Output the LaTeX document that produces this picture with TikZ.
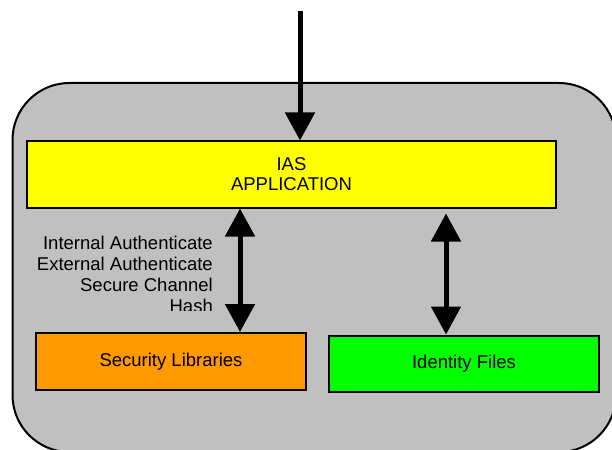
\documentclass[tikz,border=0pt]{standalone}
\usepackage{fontspec}
\setmainfont{Liberation Sans}
\usetikzlibrary{arrows.meta}
\definecolor{panelgray}{HTML}{C0C0C0}
\definecolor{appyellow}{HTML}{FFFF00}
\definecolor{liborange}{HTML}{FF9900}
\definecolor{filegreen}{HTML}{00FF00}
\begin{document}
\begin{tikzpicture}[x=1pt,y=-1pt,
  box/.style={draw=black, line width=2pt, rectangle, inner sep=0pt, align=center,
    font=\fontsize{18.5}{20}\selectfont},
  conn/.style={line width=5pt, -{Triangle[width=29pt,length=28pt]}},
  dconn/.style={line width=5pt, {Triangle[width=29pt,length=28pt]}-{Triangle[width=29pt,length=28pt]}},
  lbl/.style={align=right, inner sep=0pt, font=\fontsize{18.5}{21}\selectfont}]
\useasboundingbox (0,0) rectangle (612,449);
\begin{scope}
\clip (0,0) rectangle (612,449);
\draw[line width=2pt, fill=panelgray, rounded corners=57pt] (12.5,83) rectangle (616,452);
\end{scope}
\node[box, fill=appyellow, minimum width=529pt, minimum height=66pt] (app) at (291.5,174.5) {IAS\\APPLICATION};
\node[box, fill=liborange, minimum width=270pt, minimum height=57pt] (lib) at (171,361.5) {Security Libraries};
\node[box, fill=filegreen, minimum width=270pt, minimum height=56pt] (files) at (464,363.5) {Identity Files};
\coordinate (in) at (300,11);
\coordinate (lx) at (240,0);
\coordinate (rx) at (446,0);
\draw[conn] (in) -- (app.north -| in);
\draw[dconn] (app.south -| lx) -- (lib.north -| lx);
\draw[dconn, shorten <=5pt] (app.south -| rx) -- (files.north -| rx);
\begin{scope}
\clip (0,200) rectangle (230,310);
\node[lbl, anchor=north east] (ops) at (213,235.5) {Internal Authenticate\\External Authenticate\\Secure Channel\\Hash};
\end{scope}
\end{tikzpicture}
\end{document}
